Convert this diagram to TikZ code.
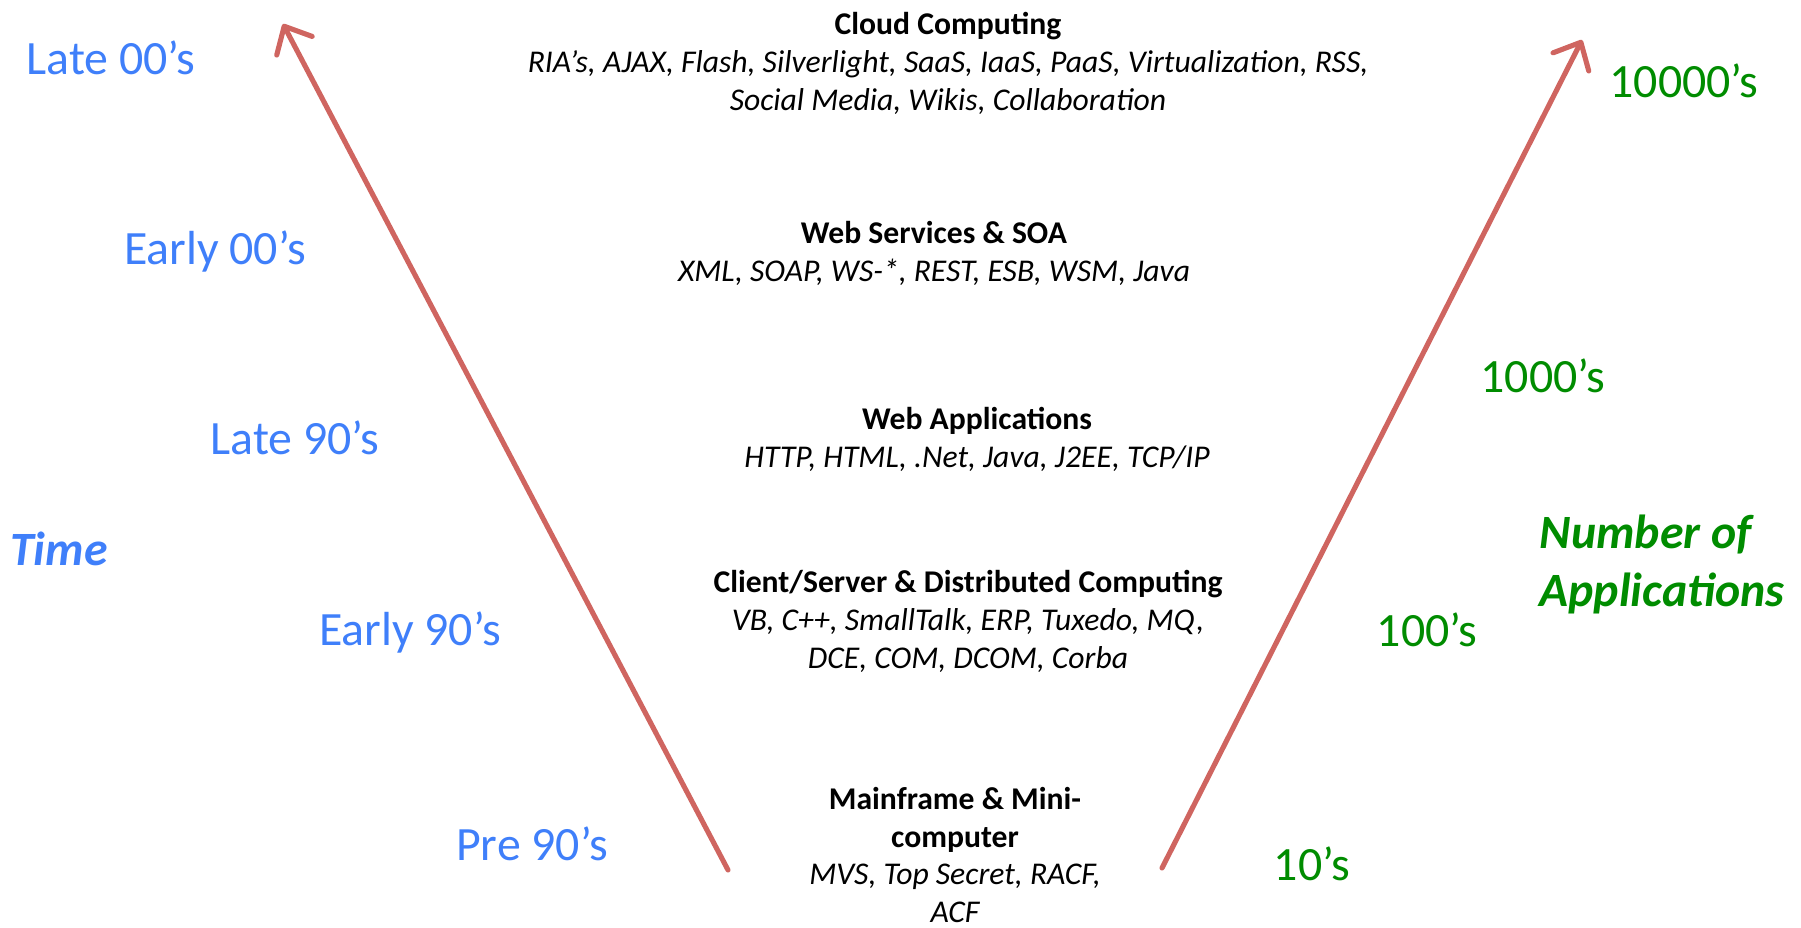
\documentclass[tikz,border=0pt]{standalone}
\usepackage{fontspec}
\setmainfont{Carlito}
\usetikzlibrary{arrows.meta}

\definecolor{erablue}{HTML}{3F7FFA}
\definecolor{countgreen}{HTML}{008C00}
\definecolor{arrowred}{HTML}{CF6560}

\tikzset{
  era/.style={text=erablue, font=\fontsize{13.6}{15}\selectfont, inner sep=0pt},
  count/.style={text=countgreen, font=\fontsize{13.6}{15}\selectfont, inner sep=0pt},
  tech/.style={align=center, font=\fontsize{9}{10.8}\selectfont, inner sep=0pt},
  trend/.style={arrowred, line width=1.45pt, line cap=round,
    -{Straight Barb[length=2.2mm, width=4mm, round]}}
}

\begin{document}
\begin{tikzpicture}[x=0.01cm, y=-0.01cm]
        \useasboundingbox (0,0) rectangle (1801,928);
        \coordinate (t0) at (728,870);
        \coordinate (t1) at (283,24);
        \coordinate (n0) at (1162,868);
        \coordinate (n1) at (1582,40);
        \draw[trend] (t0) -- (t1);
        \draw[trend] (n0) -- (n1);

        \node[era] (late00) at (111,58) {Late 00’s};
        \node[era] (early00) at (215,251) {Early 00’s};
        \node[era] (late90) at (295,438) {Late 90’s};
        \node[era, font=\fontsize{13.6}{15}\selectfont\bfseries\itshape] (time) at (59,549) {Time};
        \node[era] (early90) at (410,632) {Early 90’s};
        \node[era] (pre90) at (532,844) {Pre 90’s};

        \node[count] (c10000) at (1684,81) {10000’s};
        \node[count] (c1000) at (1543,376) {1000’s};
        \node[count, anchor=west, align=left, font=\fontsize{13.6}{16.5}\selectfont\bfseries\itshape] (napps) at (1539,564) {Number of\\Applications};
        \node[count] (c100) at (1427,630) {100’s};
        \node[count] (c10) at (1312,864) {10’s};

        \node[tech] (cloud) at (948,63) {\textbf{Cloud Computing}\\ \itshape RIA’s, AJAX, Flash, Silverlight, SaaS, IaaS, PaaS, Virtualization, RSS,\\ \itshape Social Media, Wikis, Collaboration};
        \node[tech] (soa) at (934,253) {\textbf{Web Services \& SOA}\\ \itshape XML, SOAP, WS-*, REST, ESB, WSM, Java};
        \node[tech] (webapp) at (977,439) {\textbf{Web Applications}\\ \itshape HTTP, HTML, .Net, Java, J2EE, TCP/IP};
        \node[tech] (client) at (968,621) {\textbf{Client/Server \& Distributed Computing}\\ \itshape VB, C++, SmallTalk, ERP, Tuxedo, MQ,\\ \itshape DCE, COM, DCOM, Corba};
        \node[tech] (mainframe) at (955,855) {\textbf{Mainframe \& Mini-}\\ \textbf{computer}\\ \itshape MVS, Top Secret, RACF,\\ \itshape ACF};
\end{tikzpicture}
\end{document}
